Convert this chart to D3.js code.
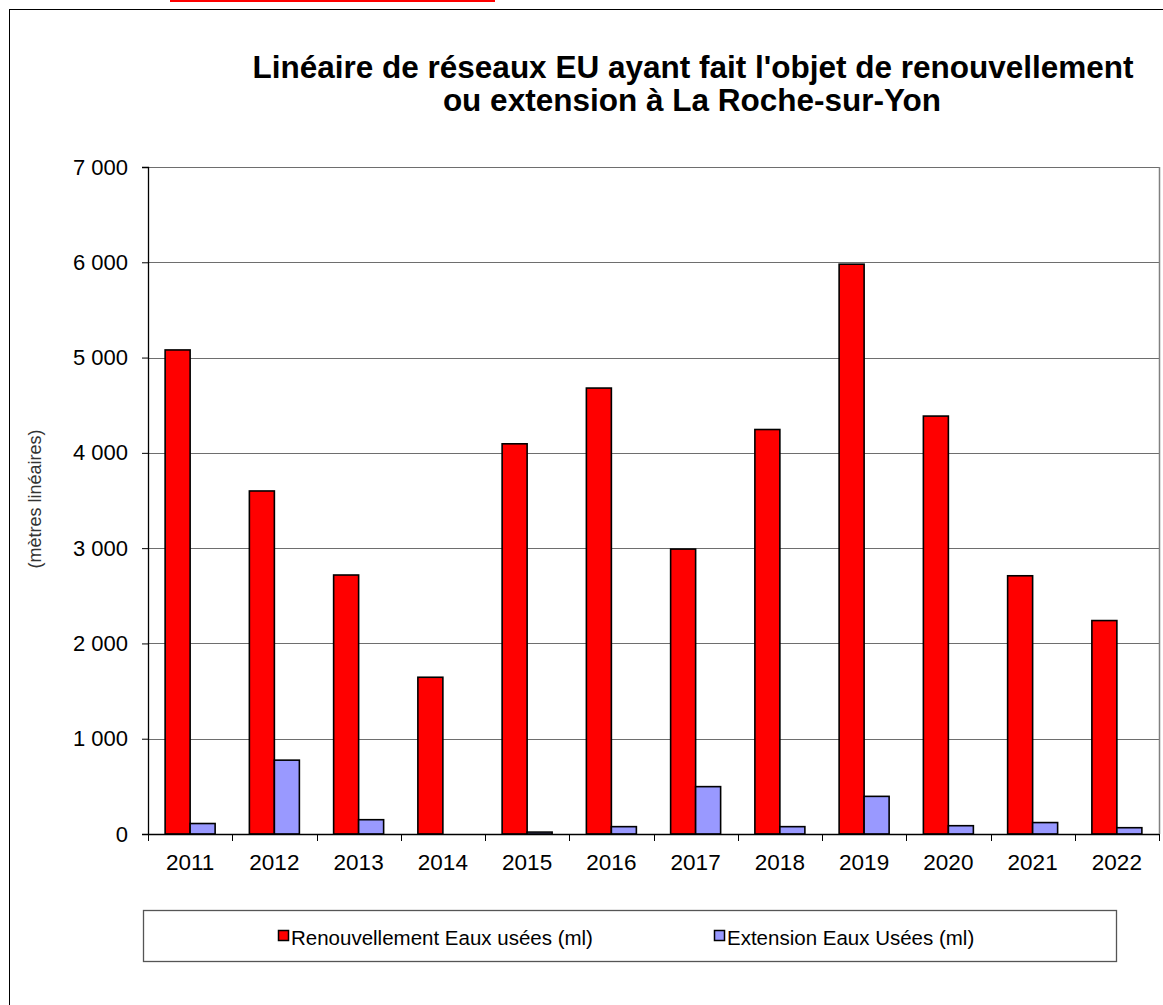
<!DOCTYPE html>
<html>
<head>
<meta charset="utf-8">
<script src="https://cdn.jsdelivr.net/npm/d3@7"></script>
<style>
  html, body { margin: 0; padding: 0; background: #fff; }
  svg { display: block; font-family: "Liberation Sans", Arial, sans-serif; }
</style>
</head>
<body>
<div id="chart"></div>
<script>
// data
const years = ["2011", "2012", "2013", "2014", "2015", "2016", "2017", "2018", "2019", "2020", "2021", "2022"];
const renouvellement = [5080, 3600, 2718, 1645, 4095, 4680, 2990, 4245, 5980, 4386, 2710, 2240];
const extension = [110, 775, 150, 0, 20, 77, 497, 77, 395, 87, 120, 66];
const yTicks = [0, 1000, 2000, 3000, 4000, 5000, 6000, 7000];
const seriesNames = ["Renouvellement Eaux usées (ml)", "Extension Eaux Usées (ml)"];
const seriesColors = ["#ff0000", "#9999ff"];

const W = 1163, H = 1005;
const plot = { l: 148, r: 1159, t: 167, b: 834 };

const svg = d3.select("#chart").append("svg")
  .attr("width", W).attr("height", H);

// red mark at the very top of the page
svg.append("rect")
  .attr("x", 170).attr("y", 0).attr("width", 325).attr("height", 2)
  .attr("fill", "#ff0000");

// outer chart frame
svg.append("rect")
  .attr("x", 9.5).attr("y", 9.5).attr("width", W + 20).attr("height", H + 20)
  .attr("fill", "none").attr("stroke", "#000");

// title
const title = svg.append("text")
  .attr("text-anchor", "middle")
  .attr("font-size", 31.5).attr("font-weight", "bold").attr("fill", "#000");
title.append("tspan").attr("x", 693).attr("y", 78)
  .text("Linéaire de réseaux EU ayant fait l'objet de renouvellement");
title.append("tspan").attr("x", 692).attr("y", 111)
  .text("ou extension à La Roche-sur-Yon");

const frLocale = d3.formatLocale({ decimal: ",", thousands: " ", grouping: [3], currency: ["", " €"] });
const fmt = frLocale.format(",d");

const x0 = d3.scaleBand().domain(years).range([plot.l, plot.r]);
const x1 = d3.scaleBand().domain([0, 1])
  .range([0, x0.bandwidth()]).paddingOuter(0.685);
const y = d3.scaleLinear().domain([0, 7000]).range([plot.b, plot.t]);

// gridlines
svg.append("g")
  .selectAll("line")
  .data(yTicks.filter(d => d > 0))
  .join("line")
  .attr("x1", plot.l).attr("x2", plot.r)
  .attr("y1", d => Math.round(y(d)) + 0.5).attr("y2", d => Math.round(y(d)) + 0.5)
  .attr("stroke", "#6e6e6e").attr("stroke-width", 1.2);

// plot area right border
svg.append("line")
  .attr("x1", plot.r + 0.5).attr("x2", plot.r + 0.5)
  .attr("y1", plot.t).attr("y2", plot.b)
  .attr("stroke", "#808080").attr("stroke-width", 1.5);

// bars
const groups = svg.append("g")
  .selectAll("g")
  .data(years)
  .join("g")
  .attr("transform", d => `translate(${x0(d)},0)`);

groups.selectAll("rect")
  .data((d, i) => [renouvellement[i], extension[i]].map((v, k) => ({ v, k })))
  .join("rect")
  .filter(d => d.v > 0)
  .attr("x", d => x1(d.k))
  .attr("width", x1.bandwidth())
  .attr("y", d => y(d.v))
  .attr("height", d => y(0) - y(d.v))
  .attr("fill", d => seriesColors[d.k])
  .attr("stroke", "#000").attr("stroke-width", 1.6);

// y axis
const yAxis = svg.append("g")
  .attr("transform", `translate(${plot.l},0)`)
  .call(d3.axisLeft(y).tickValues(yTicks).tickSize(6).tickPadding(14).tickFormat(fmt));
yAxis.select(".domain").attr("stroke", "#000").attr("stroke-width", 1.3);
yAxis.selectAll(".tick line").attr("stroke", "#000");
yAxis.selectAll("text").attr("font-size", 22).attr("fill", "#000")
  .attr("font-family", "Liberation Sans, Arial, sans-serif");

// x axis
svg.append("line")
  .attr("x1", plot.l).attr("x2", plot.r)
  .attr("y1", plot.b + 0.5).attr("y2", plot.b + 0.5)
  .attr("stroke", "#000").attr("stroke-width", 1.3);
svg.append("g")
  .selectAll("line")
  .data(years.map(d => x0(d)).concat([plot.r]))
  .join("line")
  .attr("x1", d => Math.round(d) + 0.5).attr("x2", d => Math.round(d) + 0.5)
  .attr("y1", plot.b).attr("y2", plot.b + 7)
  .attr("stroke", "#000");
svg.append("g")
  .selectAll("text")
  .data(years)
  .join("text")
  .attr("x", d => x0(d) + x0.bandwidth() / 2)
  .attr("y", 870)
  .attr("text-anchor", "middle")
  .attr("font-size", 22.5).attr("fill", "#000")
  .text(d => d);

// y axis label
svg.append("text")
  .attr("transform", "translate(41,499) rotate(-90)")
  .attr("text-anchor", "middle")
  .attr("font-size", 18).attr("fill", "#333")
  .text("(mètres linéaires)");

// legend
svg.append("rect")
  .attr("x", 143.5).attr("y", 910.5).attr("width", 973).attr("height", 51)
  .attr("fill", "#fff").attr("stroke", "#555").attr("stroke-width", 1.3);

const legendX = [278, 714];
const leg = svg.append("g")
  .selectAll("g")
  .data(seriesNames)
  .join("g")
  .attr("transform", (d, i) => `translate(${legendX[i]},930)`);
leg.append("rect")
  .attr("x", 0.5).attr("y", 0.5).attr("width", 10).attr("height", 10)
  .attr("fill", (d, i) => seriesColors[i])
  .attr("stroke", "#000").attr("stroke-width", 1.5);
leg.append("text")
  .attr("x", 13).attr("y", 15)
  .attr("font-size", 20.5).attr("fill", "#000")
  .text(d => d);
</script>
</body>
</html>
